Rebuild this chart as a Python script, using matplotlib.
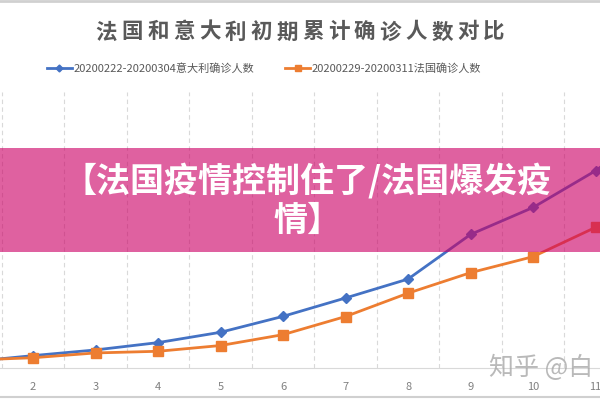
import matplotlib
matplotlib.use('Agg')
import matplotlib.pyplot as plt
from matplotlib.patches import Rectangle

plt.rcParams['font.family'] = ['Noto Sans CJK SC', 'DejaVu Sans']

# day index within each 12-day window
days = list(range(1, 13))
# cumulative confirmed cases
italy = [79, 157, 229, 322, 453, 655, 888, 1128, 1694, 2036, 2502, 3089]
france = [100, 130, 191, 212, 285, 423, 653, 949, 1209, 1412, 1784, 2281]
tick_days = list(range(2, 12))

title = '法国和意大利初期累计确诊人数对比'
label_it = '20200222-20200304意大利确诊人数'
label_fr = '20200229-20200311法国确诊人数'
banner = '【法国疫情控制住了/法国爆发疫\n情】'
watermark = '知乎 @白'

blue = '#4472C4'
orange = '#ED7D31'
grey_txt = '#595959'

fig = plt.figure(figsize=(6, 4), dpi=100)
ax = fig.add_axes([0, 0.08, 1, 0.69])

# dashed vertical grid between categories
for b in range(1, 13):
    ax.axvline(b + 0.5, color='#D9D9D9', lw=0.8, ls=(0, (4, 3)), zorder=0)

ax.plot(days, italy, color=blue, lw=2, marker='D', ms=5, zorder=3)
ax.plot(days, france, color=orange, lw=2, marker='s', ms=6.5, zorder=3)

ax.set_xlim(1.472, 11.07)
ax.set_ylim(0, 3500)
ax.set_xticks(tick_days)
ax.set_xticklabels([str(d) for d in tick_days])
ax.tick_params(axis='x', length=0, labelsize=8, colors='#808080', pad=10)
ax.set_yticks([])
for s in ['top', 'left', 'right']:
    ax.spines[s].set_visible(False)
ax.spines['bottom'].set_color('#D9D9D9')

# title, spaced out character by character like the original
step = 25.8 / 600
x0 = 0.5 - step * (len(title) - 1) / 2
for i, ch in enumerate(title):
    fig.text(x0 + i * step, 0.92, ch, ha='center', va='center', fontsize=15.5,
             fontweight='bold', color=grey_txt)

# legend drawn by hand
fig.lines.append(plt.Line2D([0.078, 0.099, 0.12], [0.83] * 3, color=blue, lw=2,
                            marker='D', ms=3.5, markevery=[1],
                            transform=fig.transFigure))
fig.lines.append(plt.Line2D([0.475, 0.496, 0.517], [0.83] * 3, color=orange, lw=2,
                            marker='s', ms=4.5, markevery=[1],
                            transform=fig.transFigure))
fig.text(0.123, 0.83, label_it, ha='left', va='center', fontsize=8, color=grey_txt)
fig.text(0.52, 0.83, label_fr, ha='left', va='center', fontsize=8, color=grey_txt)

# pink overlay banner
fig.patches.append(Rectangle((0, 0.37), 1, 0.26, transform=fig.transFigure,
                             facecolor=(0.8, 0.0, 0.4), alpha=0.62, zorder=5))
fig.text(0.512, 0.5, banner, ha='center', va='center', fontsize=24.5,
         fontweight='black', color='white', linespacing=1.15, zorder=6)

fig.text(0.815, 0.08, watermark, ha='left', va='center', fontsize=18,
         color='#A8A8A8', alpha=0.8, zorder=6)

# thin frame lines at top and bottom
fig.lines.append(plt.Line2D([0, 1], [0.997, 0.997], color='#D0D0D0', lw=2,
                            transform=fig.transFigure))
fig.lines.append(plt.Line2D([0, 1], [0.008, 0.008], color='#D0D0D0', lw=1.5,
                            transform=fig.transFigure))

fig.savefig('out.png', dpi=100)
